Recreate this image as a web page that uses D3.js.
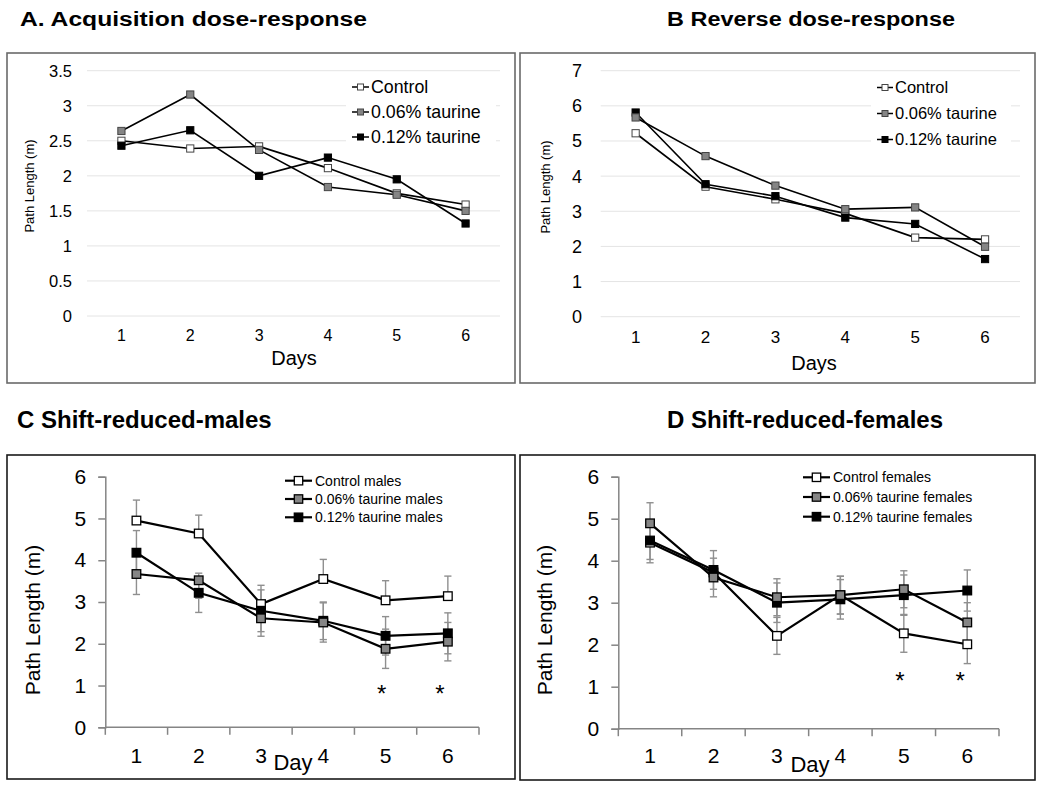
<!DOCTYPE html>
<html><head><meta charset="utf-8">
<script src="https://cdn.jsdelivr.net/npm/d3@7"></script>
<style>body{margin:0;background:#fff} svg{display:block} text{font-family:"Liberation Sans",Arial,sans-serif;fill:#000}</style>
</head><body><svg id="c" width="1050" height="787"></svg>
<script>
// ---------- data ----------
const days = ["1","2","3","4","5","6"];
const legendAB = ["Control","0.06% taurine","0.12% taurine"];
const legendC = ["Control males","0.06% taurine males","0.12% taurine males"];
const legendD = ["Control females","0.06% taurine females","0.12% taurine females"];
const ticksA = [0,0.5,1,1.5,2,2.5,3,3.5];
const ticksB = [0,1,2,3,4,5,6,7];
const ticksCD = [0,1,2,3,4,5,6];
const sigDays = ["5","6"];

// A. Acquisition dose-response
const aControl = [2.50,2.39,2.42,2.11,1.75,1.59];
const a006     = [2.64,3.16,2.37,1.84,1.73,1.50];
const a012     = [2.43,2.65,2.00,2.26,1.95,1.32];
// B Reverse dose-response
const bControl = [5.22,3.70,3.34,2.94,2.25,2.20];
const b006     = [5.67,4.57,3.73,3.06,3.11,1.99];
const b012     = [5.81,3.77,3.43,2.82,2.64,1.64];
// C Shift-reduced-males (mean, error up, error down)
const cControl   = [4.95,4.64,2.95,3.55,3.04,3.14];
const cControlUp = [0.49,0.44,0.45,0.47,0.47,0.48];
const cControlDn = [0,0,0,0,0,0];
const c006   = [3.67,3.52,2.61,2.51,1.88,2.05];
const c006Up = [0.49,0,0.43,0.47,0.47,0.46];
const c006Dn = [0.49,0.43,0.43,0.47,0.47,0.46];
const c012   = [4.18,3.22,2.79,2.55,2.19,2.25];
const c012Up = [0.53,0.47,0.50,0.45,0.46,0.49];
const c012Dn = [0.53,0.47,0.50,0.45,0.46,0.49];
// D Shift-reduced-females
const dControl    = [4.43,3.72,2.21,3.18,2.27,2.01];
const dControlErr = [0.48,0,0.44,0.45,0.45,0.46];
const d006    = [4.89,3.60,3.13,3.18,3.32,2.53];
const d006Err = [0.49,0.46,0.44,0.45,0.44,0.47];
const d012    = [4.48,3.78,3.00,3.08,3.18,3.29];
const d012Err = [0.45,0.46,0.47,0.47,0.48,0.49];

const fills = ["#ffffff","#858585","#000000"];
const drawOrder = [0,2,1];
const svg = d3.select("#c");

function title(txt, x, y, size, len){
  const t = svg.append("text").attr("x",x).attr("y",y).attr("font-size",size)
    .attr("font-weight","bold").text(txt);
  if (len) t.attr("textLength",len).attr("lengthAdjust","spacingAndGlyphs");
}

// Excel-style panels A & B
function excelPanel(o){
  const g = svg.append("g");
  g.append("rect").attr("x",o.frame[0]).attr("y",o.frame[1])
    .attr("width",o.frame[2]-o.frame[0]).attr("height",o.frame[3]-o.frame[1])
    .attr("fill","none").attr("stroke","#6a6a6a").attr("stroke-width",1.6);
  const x = d3.scaleBand().domain(days).range(o.xRange);
  const y = d3.scaleLinear().domain([0,o.ticks[o.ticks.length-1]]).range(o.yRange);
  const cx = d => x(d)+x.bandwidth()/2;
  g.selectAll(".grid").data(o.ticks).join("line")
    .attr("x1",o.xRange[0]).attr("x2",o.xRange[1])
    .attr("y1",d=>y(d)).attr("y2",d=>y(d)).attr("stroke","#e4e4e4").attr("stroke-width",1);
  g.selectAll(".yl").data(o.ticks).join("text")
    .attr("x",o.yLabelX).attr("y",d=>y(d)).attr("dy","0.36em").attr("text-anchor","end")
    .attr("font-size",o.tickSize).text(d=>d);
  g.selectAll(".xl").data(days).join("text")
    .attr("x",cx).attr("y",o.xLabelY).attr("text-anchor","middle")
    .attr("font-size",o.xTickSize).text(d=>d);
  g.append("text").attr("transform",`translate(${o.yTitleX},${o.yTitleY}) rotate(-90)`)
    .attr("text-anchor","middle").attr("font-size",13).text("Path Length (m)");
  g.append("text").attr("x",o.xTitleX).attr("y",o.xTitleY).attr("text-anchor","middle")
    .attr("font-size",20).text("Days");
  // legend background
  g.append("rect").attr("x",o.legX-6).attr("y",o.legY-14).attr("width",o.legW)
    .attr("height",o.legDy*3+4).attr("fill","#fff");
  const series = o.series;
  const line = d3.line().x((v,i)=>cx(days[i])).y(v=>y(v));
  drawOrder.forEach(k=>{
    g.append("path").attr("d",line(series[k])).attr("fill","none")
      .attr("stroke","#000").attr("stroke-width",1.6);
  });
  drawOrder.forEach(k=>{
    g.selectAll(null).data(series[k]).join("rect")
      .attr("x",(v,i)=>cx(days[i])-3.6).attr("y",v=>y(v)-3.6)
      .attr("width",7.2).attr("height",7.2).attr("fill",fills[k])
      .attr("stroke",k===2?"#000":"#444").attr("stroke-width",1);
  });
  o.names.forEach((n,k)=>{
    const ly = o.legY + k*o.legDy;
    g.append("line").attr("x1",o.legX).attr("x2",o.legX+o.legLine).attr("y1",ly).attr("y2",ly)
      .attr("stroke","#000").attr("stroke-width",1.5);
    g.append("rect").attr("x",o.legX+o.legLine/2-3).attr("y",ly-3).attr("width",6).attr("height",6)
      .attr("fill",fills[k]).attr("stroke",k===2?"#000":"#444").attr("stroke-width",1);
    g.append("text").attr("x",o.legX+o.legLine+2).attr("y",ly).attr("dy","0.36em")
      .attr("font-size",o.legSize).text(n);
  });
}

// Error-bar panels C & D
function errPanel(o){
  const g = svg.append("g");
  g.append("rect").attr("x",o.frame[0]).attr("y",o.frame[1])
    .attr("width",o.frame[2]-o.frame[0]).attr("height",o.frame[3]-o.frame[1])
    .attr("fill","none").attr("stroke","#1a1a1a").attr("stroke-width",1.6);
  const x = d3.scaleBand().domain(days).range(o.xRange);
  const y = d3.scaleLinear().domain([0,6]).range(o.yRange);
  const cx = d => x(d)+x.bandwidth()/2;
  const axisColor = "#858585";
  const ya = g.append("g").attr("transform",`translate(${o.xRange[0]},0)`)
    .call(d3.axisLeft(y).tickValues(ticksCD).tickSize(7).tickPadding(12).tickFormat(d3.format("d")));
  ya.select(".domain").attr("stroke",axisColor).attr("stroke-width",1.5);
  ya.selectAll(".tick line").attr("stroke",axisColor).attr("stroke-width",1.5);
  ya.selectAll(".tick text").attr("font-size",21).attr("font-family","Liberation Sans, Arial, sans-serif").attr("fill","#000");
  // x axis
  const y0 = y(0);
  g.append("line").attr("x1",o.xRange[0]).attr("x2",o.xRange[1]).attr("y1",y0).attr("y2",y0)
    .attr("stroke",axisColor).attr("stroke-width",1.5);
  const bounds = days.map(d=>x(d)).concat([x(days[days.length-1])+x.bandwidth()]);
  g.selectAll(".xt").data(bounds).join("line")
    .attr("x1",d=>d).attr("x2",d=>d).attr("y1",y0).attr("y2",y0+7.5)
    .attr("stroke",axisColor).attr("stroke-width",1.5);
  g.selectAll(".xl").data(days).join("text")
    .attr("x",cx).attr("y",o.xLabelY).attr("text-anchor","middle").attr("font-size",21).text(d=>d);
  g.append("text").attr("x",o.xTitleX).attr("y",o.xTitleY).attr("text-anchor","middle")
    .attr("font-size",22).text("Day");
  g.append("text").attr("transform",`translate(${o.yTitleX},${o.yTitleY}) rotate(-90)`)
    .attr("text-anchor","middle").attr("font-size",21).text("Path Length (m)");
  const series = o.series;
  // error bars
  drawOrder.forEach(k=>{
    const s = series[k];
    s.mean.forEach((v,i)=>{
      const xc = cx(days[i]);
      [[s.up[i],1],[s.dn[i],-1]].forEach(([e,sg])=>{
        if(!e) return;
        const ye = y(v+sg*e);
        g.append("line").attr("x1",xc).attr("x2",xc).attr("y1",y(v)).attr("y2",ye)
          .attr("stroke","#8f8f8f").attr("stroke-width",1.4);
        g.append("line").attr("x1",xc-3.6).attr("x2",xc+3.6).attr("y1",ye).attr("y2",ye)
          .attr("stroke","#8f8f8f").attr("stroke-width",1.4);
      });
    });
  });
  const line = d3.line().x((v,i)=>cx(days[i])).y(v=>y(v));
  drawOrder.forEach(k=>{
    g.append("path").attr("d",line(series[k].mean)).attr("fill","none")
      .attr("stroke","#000").attr("stroke-width",2.2);
  });
  drawOrder.forEach(k=>{
    g.selectAll(null).data(series[k].mean).join("rect")
      .attr("x",(v,i)=>cx(days[i])-4.3).attr("y",v=>y(v)-4.3)
      .attr("width",8.6).attr("height",8.6).attr("fill",fills[k])
      .attr("stroke","#000").attr("stroke-width",1.3);
  });
  // significance
  g.selectAll(".sig").data(sigDays).join("text")
    .attr("x",(d,i)=>cx(d)+o.sigDx[i]).attr("y",o.sigY).attr("text-anchor","middle")
    .attr("font-size",24).text("*");
  // legend
  o.names.forEach((n,k)=>{
    const ly = o.legY + k*o.legDy;
    g.append("line").attr("x1",o.legX).attr("x2",o.legX+27).attr("y1",ly).attr("y2",ly)
      .attr("stroke","#000").attr("stroke-width",2.2);
    g.append("rect").attr("x",o.legX+13.5-4.2).attr("y",ly-4.2).attr("width",8.4).attr("height",8.4)
      .attr("fill",fills[k]).attr("stroke","#000").attr("stroke-width",1.3);
    g.append("text").attr("x",o.legX+30).attr("y",ly).attr("dy","0.36em")
      .attr("font-size",14).text(n);
  });
}

// titles
title("A. Acquisition dose-response", 20, 26, 20, 347);
title("B Reverse dose-response", 667, 26, 20, 288);
title("C Shift-reduced-males", 17, 428, 24);
title("D Shift-reduced-females", 667, 428, 24);

excelPanel({frame:[7,53,515,383], xRange:[87,500], yRange:[316,70.7], ticks:ticksA,
  yLabelX:72, tickSize:16.5, xTickSize:16, xLabelY:341, yTitleX:34, yTitleY:186,
  xTitleX:294, xTitleY:365, legX:352, legY:87, legDy:25, legW:150, legLine:17, legSize:17.8,
  names:legendAB, series:[aControl,a006,a012]});
excelPanel({frame:[520,53,1035,383], xRange:[600.7,1020], yRange:[316.7,70.7], ticks:ticksB,
  yLabelX:582, tickSize:18, xTickSize:17, xLabelY:343, yTitleX:550, yTitleY:187,
  xTitleX:814, xTitleY:370, legX:877, legY:87.5, legDy:26, legW:140, legLine:16, legSize:16.5,
  names:legendAB, series:[bControl,b006,b012]});

errPanel({frame:[7,455,515,779], xRange:[105.3,479], yRange:[727.3,476.7],
  xLabelY:763, xTitleX:293, xTitleY:770, yTitleX:40, yTitleY:620,
  sigDx:[-4,-8], sigY:702, legX:285, legY:480.7, legDy:18.3, names:legendC,
  series:[{mean:cControl,up:cControlUp,dn:cControlDn},{mean:c006,up:c006Up,dn:c006Dn},{mean:c012,up:c012Up,dn:c012Dn}]});
errPanel({frame:[520,455,1035,780], xRange:[618.3,999], yRange:[728.7,476.7],
  xLabelY:763, xTitleX:810, xTitleY:772, yTitleX:552, yTitleY:620,
  sigDx:[-4,-7], sigY:689, legX:803, legY:477.3, legDy:19.7, names:legendD,
  series:[{mean:dControl,up:dControlErr,dn:dControlErr},{mean:d006,up:d006Err,dn:d006Err},{mean:d012,up:d012Err,dn:d012Err}]});
</script></body></html>
